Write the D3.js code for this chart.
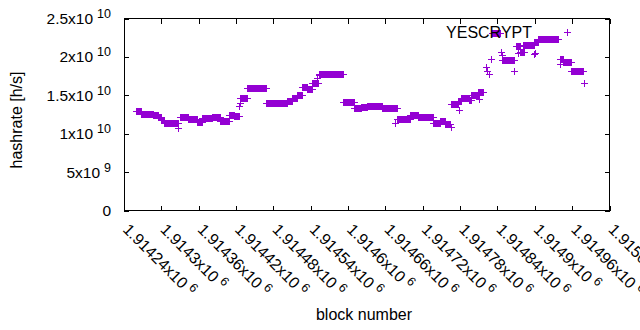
<!DOCTYPE html>
<html><head><meta charset="utf-8">
<script src="https://cdn.jsdelivr.net/npm/d3@7"></script>
<style>body{margin:0;background:#fff}</style>
</head><body>
<svg id="c" width="640" height="330"></svg>
<script>
const seriesName = "YESCRYPT";
// runs of blocks with a constant hashrate estimate (start block, end block, value)
const segStart = [1914260,1914268,1914287,1914295,1914300,1914305,1914330,1914343,1914358,1914365,1914382,1914394,1914408,1914417,1914427,1914437,1914468,1914502,1914510,1914518,1914526,1914534,1914542,1914554,1914592,1914609,1914621,1914631,1914654,1914679,1914699,1914712,1914736,1914747,1914756,1914766,1914776,1914782,1914794,1914797,1914808,1914831,1914848,1914870,1914877,1914881,1914898,1914905,1914940,1914946,1914958];
const segEnd   = [1914268,1914287,1914295,1914300,1914305,1914327,1914343,1914358,1914365,1914382,1914394,1914408,1914417,1914424,1914437,1914468,1914502,1914510,1914518,1914526,1914534,1914542,1914552,1914592,1914609,1914621,1914631,1914654,1914679,1914699,1914712,1914736,1914747,1914756,1914764,1914776,1914782,1914794,1914797,1914808,1914817,1914844,1914867,1914876,1914882,1914898,1914905,1914938,1914946,1914958,1914977];
const segValue = [12.92e9,12.63e9,12.40e9,12.17e9,11.78e9,11.33e9,12.14e9,11.87e9,11.48e9,12.00e9,12.14e9,11.65e9,12.50e9,12.27e9,14.61e9,15.91e9,14.06e9,14.32e9,14.67e9,15.01e9,16.04e9,15.86e9,16.58e9,17.80e9,14.09e9,13.35e9,13.48e9,13.57e9,13.31e9,11.87e9,12.37e9,12.15e9,11.35e9,11.63e9,11.20e9,13.84e9,14.26e9,14.67e9,14.41e9,15.10e9,15.47e9,23.07e9,19.60e9,21.38e9,20.61e9,21.52e9,21.88e9,22.29e9,19.73e9,19.30e9,18.12e9];
// isolated blocks
const pointBlock = [1914327,1914424,1914426,1914550,1914553,1914676,1914765,1914778,1914810,1914821,1914823,1914826,1914830,1914845,1914847,1914866,1914873,1914899,1914901,1914940,1914979];
const pointValue = [10.78e9,13.6e9,14.0e9,17.29e9,17.64e9,11.43e9,10.91e9,13.15e9,14.48e9,18.65e9,18.16e9,17.77e9,19.69e9,20.6e9,20.25e9,18.2e9,20.5e9,20.38e9,20.57e9,19.04e9,16.6e9];

const xTickValues = [1914240,1914300,1914360,1914420,1914480,1914540,1914600,1914660,1914720,1914780,1914840,1914900,1914960,1915020];
const xTickLabels = ["1.91424","1.9143","1.91436","1.91442","1.91448","1.91454","1.9146","1.91466","1.91472","1.91478","1.91484","1.9149","1.91496","1.91502"];
const xTickExp = "6";
const yTickValues = [0,5e9,1e10,1.5e10,2e10,2.5e10];
const yTickMantissa = ["0","5","1","1.5","2","2.5"];
const yTickExp = ["","9","10","10","10","10"];

const W=640,H=330, L=124, R=609.5, T=18.5, B=210.5;
const FONT = "'Liberation Sans', Arial, sans-serif";
const COLOR = "#9400d3";
const svg = d3.select("#c").style("font-family",FONT);
const x = d3.scaleLinear().domain([xTickValues[0], xTickValues[xTickValues.length-1]]).range([L,R]);
const y = d3.scaleLinear().domain([0,2.5e10]).range([B,T]);

// data points
const pts = [];
segStart.forEach((s,i)=>{ d3.range(s, segEnd[i]+1).forEach(b=>pts.push([b, segValue[i]])); });
pointBlock.forEach((b,i)=>pts.push([b, pointValue[i]]));
const pp = d3.path();
const hs = 3.5;
pts.forEach(([b,v])=>{
  const px = Math.round(x(b))+0.5, py = Math.round(y(v))+0.5;
  pp.moveTo(px-hs,py); pp.lineTo(px+hs,py);
  pp.moveTo(px,py-hs); pp.lineTo(px,py+hs);
});
svg.append("path").attr("d",pp.toString()).attr("stroke",COLOR).attr("stroke-width",1).attr("fill","none").attr("shape-rendering","crispEdges");

// axes (inward ticks, mirrored)
const tick = 5;
const gx = svg.append("g").attr("transform",`translate(0,${B})`).call(d3.axisBottom(x).tickValues(xTickValues).tickSizeInner(-tick).tickSizeOuter(0).tickFormat(""));
const gxt = svg.append("g").attr("transform",`translate(0,${T})`).call(d3.axisTop(x).tickValues(xTickValues).tickSizeInner(-tick).tickSizeOuter(0).tickFormat(""));
const gy = svg.append("g").attr("transform",`translate(${L},0)`).call(d3.axisLeft(y).tickValues(yTickValues).tickSizeInner(-tick).tickSizeOuter(0).tickFormat(""));
const gyr = svg.append("g").attr("transform",`translate(${R},0)`).call(d3.axisRight(y).tickValues(yTickValues).tickSizeInner(-tick).tickSizeOuter(0).tickFormat(""));
[gx,gxt,gy,gyr].forEach(g=>{ g.select(".domain").remove(); g.selectAll("line").attr("stroke","#000").attr("shape-rendering","crispEdges"); });
svg.append("rect").attr("x",L).attr("y",T).attr("width",R-L).attr("height",B-T).attr("fill","none").attr("stroke","#000").attr("stroke-width",1).attr("shape-rendering","crispEdges");

// y tick labels
yTickValues.forEach((v,i)=>{
  const t = svg.append("text").attr("x",L-13).attr("y",y(v)+5.5).attr("text-anchor","end").attr("font-size",15.5).attr("fill","#000");
  if(yTickExp[i]===""){ t.text(yTickMantissa[i]); }
  else {
    t.append("tspan").text(yTickMantissa[i]+"x10");
    t.append("tspan").attr("dx",4).attr("dy",-6).attr("font-size",12.5).text(yTickExp[i]);
  }
});
// x tick labels rotated
xTickValues.forEach((v,i)=>{
  const t = svg.append("text").attr("transform",`translate(${x(v)+2},${B+16}) rotate(45)`).attr("text-anchor","start").attr("font-size",16).attr("fill","#000").attr("dy","0.35em");
  t.append("tspan").text(xTickLabels[i]+"x10");
  t.append("tspan").attr("dx",4).attr("dy",-6).attr("font-size",12.5).text(xTickExp);
});

// axis titles
svg.append("text").attr("transform",`translate(22,120) rotate(-90)`).attr("text-anchor","middle").attr("font-size",16).attr("fill","#000").text("hashrate [h/s]");
svg.append("text").attr("x",364).attr("y",320).attr("text-anchor","middle").attr("font-size",16).attr("fill","#000").text("block number");

// key
svg.append("text").attr("x",532).attr("y",37.5).attr("text-anchor","end").attr("font-size",16).attr("fill","#000").text(seriesName);
const kp = d3.path(); const kx=567.5, ky=32.5;
kp.moveTo(kx-hs,ky); kp.lineTo(kx+hs,ky); kp.moveTo(kx,ky-hs); kp.lineTo(kx,ky+hs);
svg.append("path").attr("d",kp.toString()).attr("stroke",COLOR).attr("stroke-width",1).attr("fill","none").attr("shape-rendering","crispEdges");
</script>
</body></html>
